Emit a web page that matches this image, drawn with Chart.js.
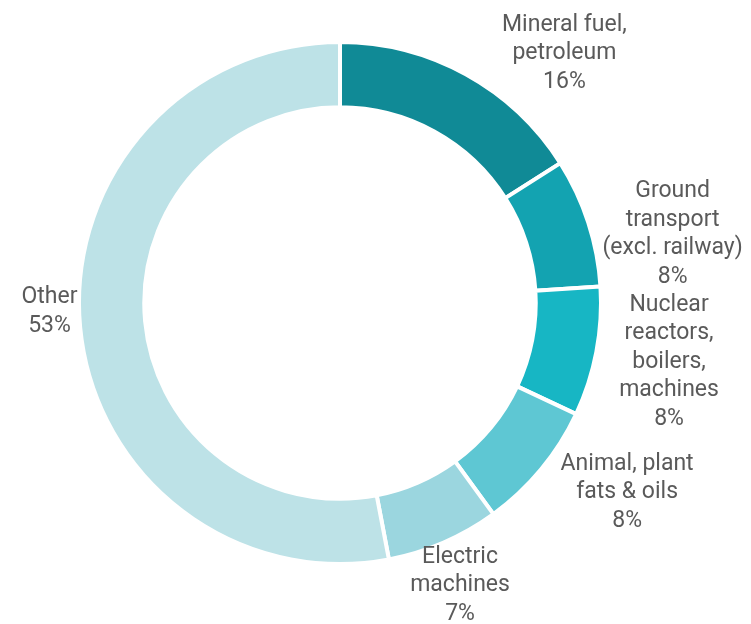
<!DOCTYPE html>
<html>
<head>
<meta charset="utf-8">
<script src="https://cdn.jsdelivr.net/npm/chart.js@4"></script>
<style>
  html, body { margin: 0; padding: 0; background: #ffffff; }
  #chart { display: block; }
</style>
</head>
<body>
<canvas id="chart" width="751" height="624"></canvas>
<script>
const categories = [
    ['Mineral fuel,', 'petroleum'],
    ['Ground', 'transport', '(excl. railway)'],
    ['Nuclear', 'reactors,', 'boilers,', 'machines'],
    ['Animal, plant', 'fats & oils'],
    ['Electric', 'machines'],
    ['Other']
];
const shares = [16, 8, 8, 8, 7, 53];
const sliceColors = ['#108a96', '#13a3b1', '#17b6c4', '#5ec7d3', '#9bd6df', '#bde2e7'];

// label placement: point on the slice's mid angle, then nudged clear of neighbours
const labelRadius = 335;
const labelNudge = [[63, 44], [14, 35], [0, -4], [29, -24], [-13, -25], [43, -23]];

const outsideLabels = {
    id: 'outsideLabels',
    afterDraw(chart) {
        const ctx = chart.ctx;
        const arcs = chart.getDatasetMeta(0).data;
        ctx.save();
        ctx.font = '23px Roboto';
        ctx.fillStyle = '#5a5a5a';
        ctx.textAlign = 'center';
        ctx.textBaseline = 'middle';
        const lineH = 28.5;
        arcs.forEach((arc, i) => {
            const mid = (arc.startAngle + arc.endAngle) / 2;
            const cx = arc.x + Math.cos(mid) * labelRadius + labelNudge[i][0];
            const cy = arc.y + Math.sin(mid) * labelRadius + labelNudge[i][1];
            const lines = categories[i].concat([shares[i] + '%']);
            const top = cy - (lines.length - 1) * lineH / 2;
            lines.forEach((t, k) => ctx.fillText(t, cx, top + k * lineH));
        });
        ctx.restore();
    }
};

new Chart(document.getElementById('chart'), {
    type: 'doughnut',
    data: {
        labels: categories.map(c => c.join(' ')),
        datasets: [{
            data: shares,
            backgroundColor: sliceColors,
            borderColor: '#ffffff',
            borderWidth: 4
        }]
    },
    options: {
        responsive: false,
        animation: false,
        cutout: '75%',
        layout: { padding: { top: 40, bottom: 58, left: 77, right: 148 } },
        plugins: {
            legend: { display: false },
            tooltip: { enabled: false }
        }
    },
    plugins: [outsideLabels]
});
</script>
</body>
</html>
